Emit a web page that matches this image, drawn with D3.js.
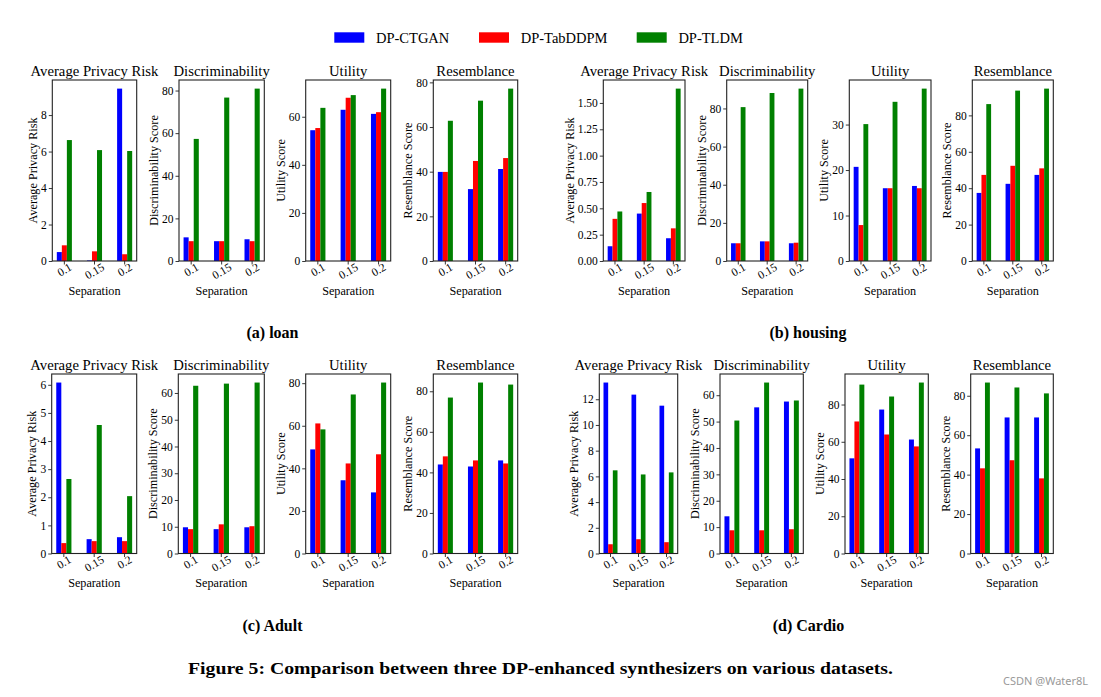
<!DOCTYPE html>
<html><head><meta charset="utf-8">
<script src="https://cdn.jsdelivr.net/npm/d3@7"></script>
<style>
body{margin:0;background:#fff}
svg{display:block}
text{font-family:"Liberation Serif","Times New Roman",serif;fill:#000}
</style>
</head><body>
<svg id="c" width="1101" height="697"></svg>
<script>
// ---------------- DATA ----------------
const categories = ["0.1", "0.15", "0.2"];
const series = ["DP-CTGAN", "DP-TabDDPM", "DP-TLDM"];
const colors = ["#0000ff", "#ff0000", "#008000"];
const metrics = ["Average Privacy Risk", "Discriminability", "Utility", "Resemblance"];
const yLabels = ["Average Privacy Risk", "Discriminability Score", "Utility Score", "Resemblance Score"];
const xLabel = "Separation";
const datasetCaptions = ["(a) loan", "(b) housing", "(c) Adult", "(d) Cardio"];
const figureCaption = "Figure 5: Comparison between three DP-enhanced synthesizers on various datasets.";

// values: rows = series (CTGAN, TabDDPM, TLDM), columns = separation 0.1, 0.15, 0.2
const loanPrivacy = [[0.49, 0.03, 9.45], [0.86, 0.53, 0.37], [6.63, 6.08, 6.03]];
const loanDiscrim = [[11.1, 9.3, 10.2], [9.3, 9.3, 9.3], [57.3, 76.7, 80.9]];
const loanUtility = [[54.4, 62.9, 61.2], [55.3, 67.9, 61.9], [63.7, 69.0, 71.7]];
const loanResemb = [[39.9, 32.2, 41.2], [39.9, 44.8, 46.1], [62.8, 71.8, 77.2]];

const housingPrivacy = [[0.14, 0.45, 0.216], [0.40, 0.55, 0.31], [0.47, 0.655, 1.636]];
const housingDiscrim = [[9.3, 10.3, 9.3], [9.3, 10.3, 9.6], [80.7, 88.1, 90.4]];
const housingUtility = [[20.7, 16.0, 16.5], [7.9, 16.0, 16.0], [30.1, 35.0, 37.9]];
const housingResemb = [[37.4, 42.4, 47.3], [47.3, 52.3, 50.9], [86.2, 93.6, 94.7]];

const adultPrivacy = [[6.08, 0.51, 0.58], [0.37, 0.44, 0.44], [2.65, 4.57, 2.04]];
const adultDiscrim = [[9.8, 9.1, 9.8], [9.1, 10.9, 10.2], [62.7, 63.5, 63.9]];
const adultUtility = [[48.9, 34.4, 28.7], [61.1, 42.3, 46.6], [58.3, 74.7, 80.3]];
const adultResemb = [[43.9, 42.9, 45.9], [47.9, 45.9, 44.4], [76.9, 84.3, 83.3]];

const cardioPrivacy = [[13.3, 12.36, 11.5], [0.72, 1.11, 0.88], [6.47, 6.15, 6.31]];
const cardioDiscrim = [[14.1, 55.4, 57.6], [8.8, 8.8, 9.2], [50.4, 64.8, 58.0]];
const cardioUtility = [[51.1, 77.3, 61.2], [70.9, 63.9, 57.5], [90.7, 84.3, 91.8]];
const cardioResemb = [[53.3, 69.0, 69.0], [43.2, 47.3, 38.1], [86.7, 84.2, 81.2]];

// y tick labels per panel
const loanTicks = [[0, 2, 4, 6, 8], [0, 20, 40, 60, 80], [0, 20, 40, 60], [0, 20, 40, 60, 80]];
const housingTicks = [[0, 0.25, 0.5, 0.75, 1.0, 1.25, 1.5], [0, 20, 40, 60, 80], [0, 10, 20, 30], [0, 20, 40, 60, 80]];
const adultTicks = [[0, 1, 2, 3, 4, 5, 6], [0, 10, 20, 30, 40, 50, 60], [0, 20, 40, 60, 80], [0, 20, 40, 60, 80]];
const cardioTicks = [[0, 2, 4, 6, 8, 10, 12], [0, 10, 20, 30, 40, 50, 60], [0, 20, 40, 60, 80], [0, 20, 40, 60, 80]];

// ---------------- LAYOUT ----------------
const datasets = [
  {values: [loanPrivacy, loanDiscrim, loanUtility, loanResemb], ticks: loanTicks, fmt: [null, null, null, null]},
  {values: [housingPrivacy, housingDiscrim, housingUtility, housingResemb], ticks: housingTicks, fmt: [".2f", null, null, null]},
  {values: [adultPrivacy, adultDiscrim, adultUtility, adultResemb], ticks: adultTicks, fmt: [null, null, null, null]},
  {values: [cardioPrivacy, cardioDiscrim, cardioUtility, cardioResemb], ticks: cardioTicks, fmt: [null, null, null, null]}
];
const layout = [
  {top: 80, bottom: 261, xs: [[52.3, 136.7], [179, 264.3], [305.7, 390.7], [433.3, 517.7]], capX: 272.5, capY: 337.5},
  {top: 80, bottom: 261, xs: [[603.3, 685], [726.7, 807.7], [849.3, 931], [972.3, 1053.3]], capX: 808, capY: 337.5},
  {top: 374, bottom: 553.5, xs: [[51.7, 136.7], [178.3, 264.3], [305.7, 390.7], [433.3, 517.7]], capX: 272.5, capY: 631},
  {top: 374, bottom: 553.5, xs: [[599.3, 677.7], [720, 803.3], [845, 928.3], [970.7, 1053.3]], capX: 808.5, capY: 631}
];

const svg = d3.select("#c");

function drawPanel(vals, ticks, fmt, title, ylab, x0, x1, top, bottom) {
  const g = svg.append("g");
  const x = d3.scaleBand().domain(categories).range([x0, x1]).paddingInner(0.5).paddingOuter(0.15);
  const inner = d3.scaleBand().domain(series).range([0, x.bandwidth()]);
  const maxV = d3.max(vals.flat());
  const y = d3.scaleLinear().domain([0, maxV * 1.05]).range([bottom, top]);

  // bars
  series.forEach((s, si) => {
    g.append("g").selectAll("rect").data(categories).join("rect")
      .attr("x", (c) => x(c) + inner(s))
      .attr("width", inner.bandwidth())
      .attr("y", (c, ci) => y(vals[si][ci]))
      .attr("height", (c, ci) => y(0) - y(vals[si][ci]))
      .attr("fill", colors[si]);
  });

  // y axis
  const ya = g.append("g").attr("transform", `translate(${x0},0)`)
    .call(d3.axisLeft(y).tickValues(ticks).tickSize(3.5).tickPadding(2)
      .tickFormat(fmt ? d3.format(fmt) : d3.format("d")));
  ya.select(".domain").remove();
  ya.selectAll("line").attr("stroke", "#222").attr("stroke-width", 0.9);
  ya.selectAll("text").style("font-family", '"Liberation Serif",serif').style("font-size", "11.5px").attr("fill", "#000");
  let minLeft = x0;
  ya.selectAll("text").each(function () { const b = this.getBBox(); minLeft = Math.min(minLeft, x0 + b.x); });

  // x ticks
  const xg = g.append("g");
  categories.forEach((c) => {
    const cx = x(c) + x.bandwidth() / 2;
    xg.append("line").attr("x1", cx).attr("x2", cx).attr("y1", bottom).attr("y2", bottom + 3.5)
      .attr("stroke", "#222").attr("stroke-width", 0.9);
    const t = xg.append("text").text(c).style("font-size", "11.5px").attr("text-anchor", "middle").attr("dy", "0.35em");
    const w = t.node().getComputedTextLength();
    const cy = bottom + 1.5 + (w * 0.5 + 7) / 2;
    t.attr("transform", `translate(${cx},${cy}) rotate(-30)`);
  });

  // frame
  g.append("rect").attr("x", x0).attr("y", top).attr("width", x1 - x0).attr("height", bottom - top)
    .attr("fill", "none").attr("stroke", "#222").attr("stroke-width", 1.1);

  // title
  g.append("text").text(title).attr("x", (x0 + x1) / 2).attr("y", top - 4)
    .attr("text-anchor", "middle").style("font-size", "14.7px");
  // y label
  g.append("text").text(ylab)
    .attr("transform", `translate(${minLeft - 4},${(top + bottom) / 2}) rotate(-90)`)
    .attr("text-anchor", "middle").style("font-size", "12.2px");
  // x label
  g.append("text").text(xLabel).attr("x", (x0 + x1) / 2).attr("y", bottom + 33.5)
    .attr("text-anchor", "middle").style("font-size", "12.2px");
}

datasets.forEach((ds, di) => {
  const L = layout[di];
  metrics.forEach((m, mi) => {
    drawPanel(ds.values[mi], ds.ticks[mi], ds.fmt[mi], m, yLabels[mi], L.xs[mi][0], L.xs[mi][1], L.top, L.bottom);
  });
  svg.append("text").text(datasetCaptions[di]).attr("x", L.capX).attr("y", L.capY)
    .attr("text-anchor", "middle").style("font-size", "16px").style("font-weight", "bold");
});

// legend
const legendX = [334.3, 479, 636.7];
series.forEach((s, i) => {
  svg.append("rect").attr("x", legendX[i]).attr("y", 32.3).attr("width", 30).attr("height", 10.4).attr("fill", colors[i]);
  svg.append("text").text(s).attr("x", legendX[i] + 41.7).attr("y", 42.5).style("font-size", "14.5px");
});

// figure caption
svg.append("text").text(figureCaption).attr("x", 188).attr("y", 674)
  .attr("textLength", 705).attr("lengthAdjust", "spacingAndGlyphs")
  .style("font-size", "17px").style("font-weight", "bold");

// watermark
svg.append("text").text("CSDN @Water8L").attr("x", 1003).attr("y", 685)
  .style("font-family", '"Noto Sans",sans-serif').style("font-size", "11px").style("fill", "#999");
</script>
</body></html>
